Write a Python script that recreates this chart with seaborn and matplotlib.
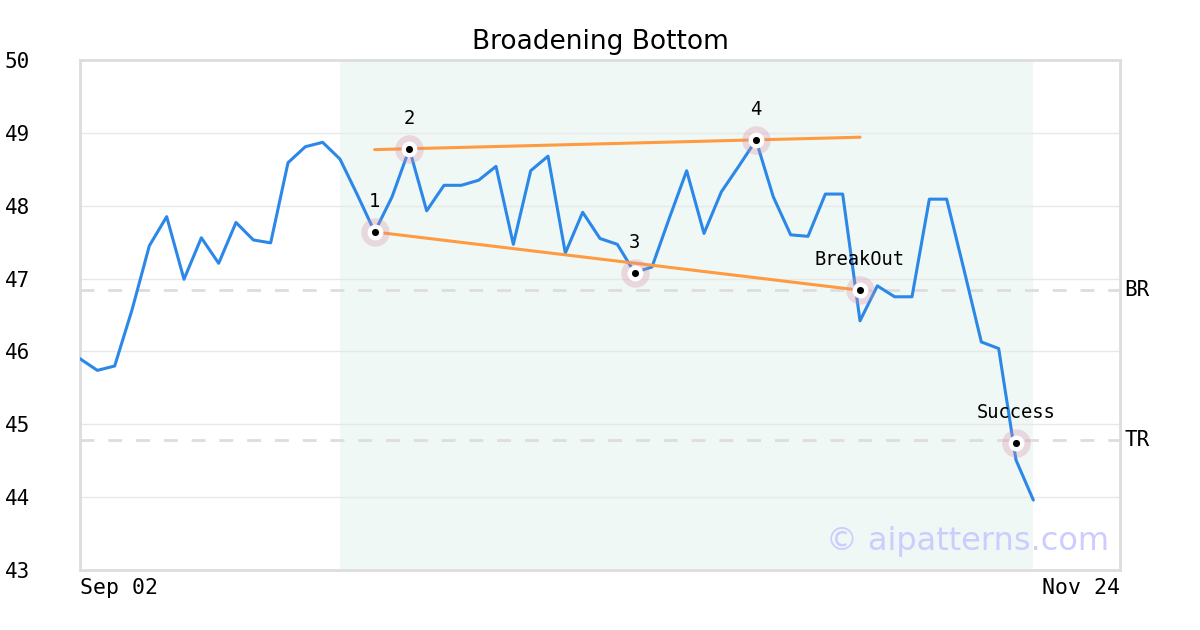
"""
Broadening Bottom pattern chart
"""
import matplotlib
matplotlib.use("Agg")
import matplotlib.pyplot as plt
import numpy as np
import pandas as pd
import seaborn as sns

# price series (one value per trading day, index 0 = Sep 02)
prices = [45.90, 45.74, 45.80, 46.57, 47.45, 47.85, 46.99, 47.56, 47.21, 47.77,
          47.53, 47.49, 48.59, 48.81, 48.87, 48.64, 48.15, 47.64, 48.12, 48.78,
          47.93, 48.28, 48.28, 48.35, 48.54, 47.47, 48.48, 48.68, 47.35, 47.91,
          47.55, 47.47, 47.08, 47.16, 47.83, 48.48, 47.62, 48.19, 48.54, 48.90,
          48.12, 47.60, 47.58, 48.16, 48.16, 46.42, 46.90, 46.75, 46.75, 48.09,
          48.09, 47.12, 46.13, 46.04, 44.51, 43.96]

# pattern points
pt_labels = ["1", "2", "3", "4", "BreakOut", "Success"]
pt_x = [17, 19, 32, 39, 45, 54]
pt_y = [47.64, 48.78, 47.08, 48.90, 46.84, 44.74]

# trend lines (start/end)
upper_x = [17, 45]
upper_y = [48.77, 48.94]
lower_x = [17, 45]
lower_y = [47.64, 46.84]

# levels
br_level = 46.84
tr_level = 44.78

pattern_start, pattern_end = 15, 55
x_ticks = [0, 60]
x_ticklabels = ["Sep 02", "Nov 24"]

df = pd.DataFrame({"day": np.arange(len(prices)), "price": prices})

sns.set_style("white")
plt.rcParams["text.color"] = "black"
plt.rcParams["xtick.color"] = "black"
plt.rcParams["ytick.color"] = "black"
mono = "DejaVu Sans Mono"

fig = plt.figure(figsize=(12, 6.3), dpi=100)
ax = fig.add_axes([80 / 1200, 60 / 630, 1040 / 1200, 510 / 630])

ax.axvspan(pattern_start, pattern_end, color="#f0f8f5", zorder=0, lw=0)
for yv in range(44, 50):
    ax.axhline(yv, color="#e8e8e8", lw=1, zorder=1)

ax.axhline(br_level, color="#dddddd", lw=2, ls=(0, (5, 5)), zorder=1)
ax.axhline(tr_level, color="#dddddd", lw=2, ls=(0, (5, 5)), zorder=1)

sns.lineplot(data=df, x="day", y="price", ax=ax, color="#2b87e8", lw=2.2, zorder=3)
ax.plot(upper_x, upper_y, color="#ff9a40", lw=2.2, zorder=4)
ax.plot(lower_x, lower_y, color="#ff9a40", lw=2.2, zorder=4)

ax.scatter(pt_x, pt_y, s=420, color="#d88fa6", alpha=0.3, lw=0, zorder=5)
ax.scatter(pt_x, pt_y, s=130, color="white", lw=0, zorder=6)
ax.scatter(pt_x, pt_y, s=26, color="black", lw=0, zorder=7)
for lab, xv, yv in zip(pt_labels, pt_x, pt_y):
    ax.annotate(lab, (xv, yv), xytext=(0, 22), textcoords="offset points",
                ha="center", va="center", family=mono, fontsize=13.5, zorder=8)

ax.text(1.004, br_level, "BR", transform=ax.get_yaxis_transform(),
        va="center", ha="left", family=mono, fontsize=15)
ax.text(1.004, tr_level, "TR", transform=ax.get_yaxis_transform(),
        va="center", ha="left", family=mono, fontsize=15)

ax.text(0.99, 0.055, "\u00a9 aipatterns.com", transform=ax.transAxes,
        ha="right", va="center", fontsize=23, color="#ccccff", zorder=9)

ax.set_xlim(0, 60)
ax.set_ylim(43, 50)
ax.set_yticks(range(43, 51))
ax.set_yticklabels([str(v) for v in range(43, 51)], family=mono, fontsize=15, ha="left")
ax.tick_params(axis="y", length=0, pad=54)
ax.set_xticks(x_ticks)
ax.set_xticklabels(x_ticklabels, family=mono, fontsize=15.5)
ax.get_xticklabels()[0].set_ha("left")
ax.get_xticklabels()[1].set_ha("right")
ax.tick_params(axis="x", length=0, pad=6)
ax.set_xlabel("")
ax.set_ylabel("")

for sp in ax.spines.values():
    sp.set_color("#dddddd")
    sp.set_linewidth(2)

ax.set_title("Broadening Bottom", fontsize=19, pad=8)

fig.savefig("out.png", dpi=100)
